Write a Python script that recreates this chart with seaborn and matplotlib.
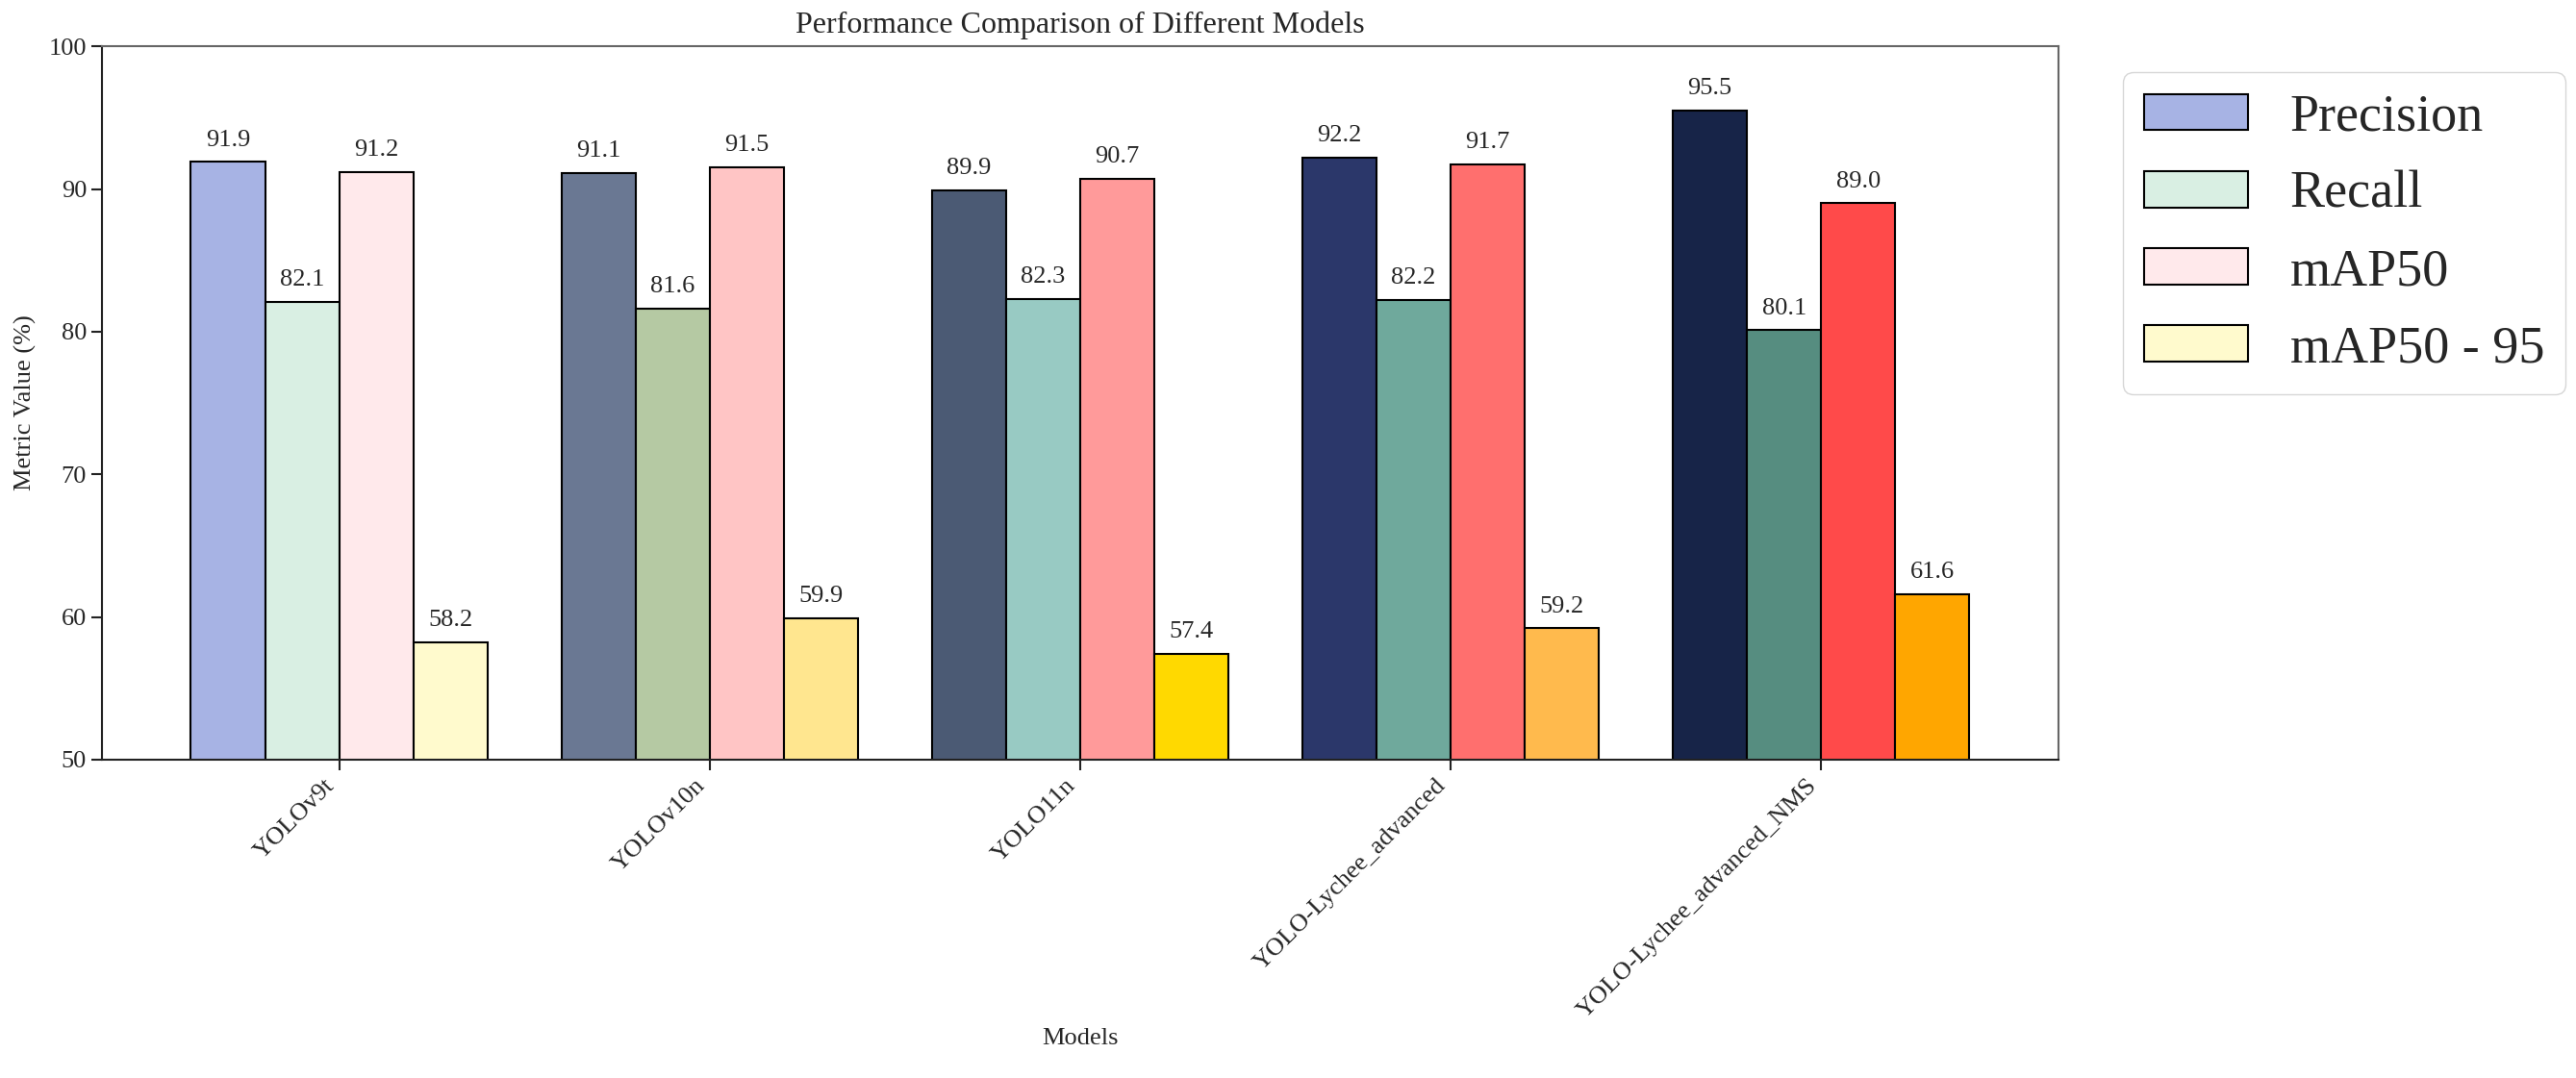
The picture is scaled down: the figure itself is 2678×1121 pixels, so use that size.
import matplotlib
matplotlib.use("Agg")
import matplotlib.pyplot as plt
import seaborn as sns
import pandas as pd

models = ["YOLOv9t", "YOLOv10n", "YOLO11n", "YOLO-Lychee_advanced", "YOLO-Lychee_advanced_NMS"]
metrics = ["Precision", "Recall", "mAP50", "mAP50 - 95"]
precision = [91.9, 91.1, 89.9, 92.2, 95.5]
recall = [82.1, 81.6, 82.3, 82.2, 80.1]
map50 = [91.2, 91.5, 90.7, 91.7, 89.0]
map50_95 = [58.2, 59.9, 57.4, 59.2, 61.6]

precision_colors = ["#a7b3e4", "#6a7893", "#4b5a74", "#2b376a", "#172448"]
recall_colors = ["#d9efe3", "#b5c9a3", "#98cac3", "#6fa99c", "#568d80"]
map50_colors = ["#ffe9eb", "#ffc5c5", "#ff9a9a", "#ff6f6e", "#ff4a4a"]
map50_95_colors = ["#fffacd", "#ffe68f", "#ffd900", "#ffba4d", "#ffa600"]

values = [precision, recall, map50, map50_95]
colors = [precision_colors, recall_colors, map50_colors, map50_95_colors]

rows = []
for metric, vals in zip(metrics, values):
    for m, v in zip(models, vals):
        rows.append({"Model": m, "Metric": metric, "Value": v})
df = pd.DataFrame(rows)

sns.set_style("ticks")
plt.rcParams["font.family"] = ["Liberation Serif", "DejaVu Serif"]
plt.rcParams["font.size"] = 19

fig = plt.figure(figsize=(26.78, 11.21), dpi=100)
ax = fig.add_axes([0.0396, 0.2953, 0.799 - 0.0396, 0.957 - 0.2953])

palette = [c[0] for c in colors]
sns.barplot(data=df, x="Model", y="Value", hue="Metric", hue_order=metrics,
            order=models, palette=palette, width=0.8, edgecolor="black",
            linewidth=1.5, saturation=1, errorbar=None, ax=ax, legend=True)

for cont, cols, vals in zip(ax.containers, colors, values):
    for bar, c, v in zip(cont, cols, vals):
        bar.set_facecolor(c)
        ax.text(bar.get_x() + bar.get_width() / 2, bar.get_height() + 0.8,
                f"{v:.1f}", ha="center", va="bottom", fontsize=19)

# matplotlib-style 5% x margins around the bars
lefts = [b.get_x() for cont in ax.containers for b in cont]
rights = [b.get_x() + b.get_width() for cont in ax.containers for b in cont]
lo, hi = min(lefts), max(rights)
pad = 0.05 * (hi - lo)
ax.set_xlim(lo - pad, hi + pad)

ax.set_ylim(50, 100)
ax.set_yticks([50, 60, 70, 80, 90, 100])
ax.set_title("Performance Comparison of Different Models", fontsize=23, pad=10)
ax.set_xlabel("Models", fontsize=19)
ax.set_ylabel("Metric Value (%)", fontsize=19, labelpad=9)
ax.tick_params(axis="both", labelsize=19, length=8, width=1.5, color="#222222")
plt.setp(ax.get_xticklabels(), rotation=45, ha="right")
for name, s in ax.spines.items():
    s.set_visible(True)
    s.set_linewidth(1.5)
    s.set_color("#222222" if name in ("left", "bottom") else "#666666")

ax.legend(loc="upper left", bbox_to_anchor=(1.02, 1), fontsize=39,
          labelspacing=0.55, title=None)

fig.savefig("out.png", dpi=100)
